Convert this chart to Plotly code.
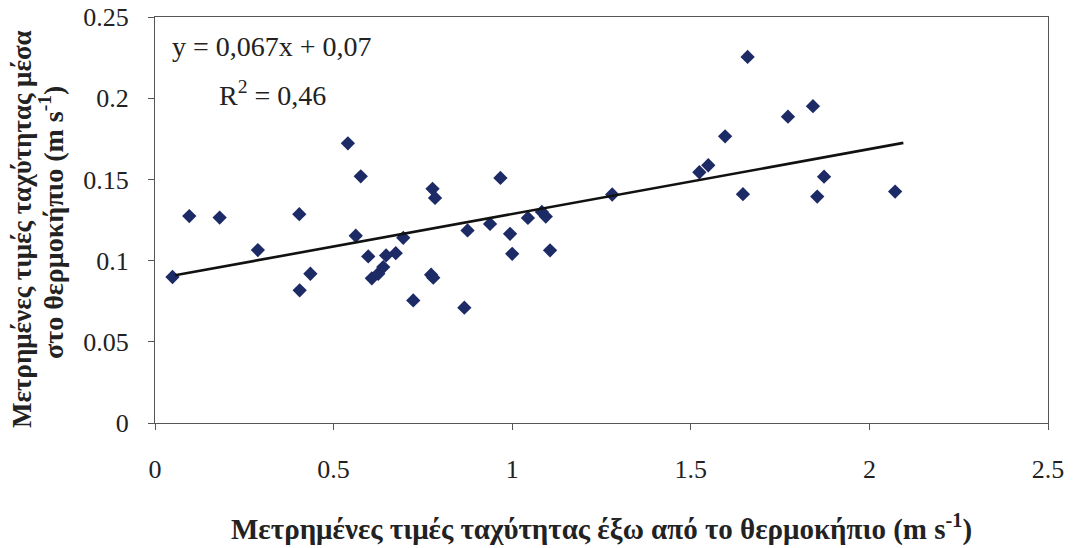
import plotly.graph_objects as go

# Measured speeds outside (x) and inside (y) the greenhouse, m/s
speed_outside = [0.049, 0.096, 0.181, 0.288, 0.404, 0.405, 0.435, 0.540, 0.562, 0.576,
                 0.597, 0.607, 0.625, 0.639, 0.647, 0.674, 0.695, 0.723, 0.773, 0.779,
                 0.777, 0.784, 0.866, 0.875, 0.938, 0.967, 0.994, 1.000, 1.044, 1.083,
                 1.094, 1.106, 1.280, 1.524, 1.549, 1.596, 1.659, 1.646, 1.772, 1.842,
                 1.873, 1.854, 2.072]
speed_inside = [0.0899, 0.1274, 0.1265, 0.1065, 0.1286, 0.0817, 0.0919, 0.1722, 0.1153, 0.1519,
                0.1026, 0.0891, 0.0919, 0.0960, 0.1032, 0.1046, 0.1140, 0.0755, 0.0913, 0.0895,
                0.1442, 0.1386, 0.0710, 0.1186, 0.1226, 0.1509, 0.1165, 0.1042, 0.1263, 0.1300,
                0.1271, 0.1063, 0.1407, 0.1544, 0.1587, 0.1765, 0.2254, 0.1409, 0.1886, 0.1951,
                0.1517, 0.1394, 0.1425]

# Trendline as drawn in the picture
trend_slope = 0.040
trend_intercept = 0.0887
trend_x = [0.056, 2.095]
trend_y = [trend_intercept + trend_slope * v for v in trend_x]

x_ticks = [0, 0.5, 1, 1.5, 2, 2.5]
x_ticklabels = ["0", "0.5", "1", "1.5", "2", "2.5"]
y_ticks = [0, 0.05, 0.1, 0.15, 0.2, 0.25]
y_ticklabels = ["0", "0.05", "0.1", "0.15", "0.2", "0.25"]

equation_text = "y = 0,067x + 0,07"
r2_text = "R<sup>2</sup> = 0,46"
x_title = "Μετρημένες τιμές ταχύτητας έξω από το θερμοκήπιο (m s<sup>-1</sup>)"
y_title_line1 = "Μετρημένες τιμές ταχύτητας μέσα"
y_title_line2 = "στο θερμοκήπιο (m s<sup>-1</sup>)"

FONT = "Liberation Serif, Times New Roman, serif"
TXT = "#222222"
AX = "#555555"

fig = go.Figure()
fig.add_trace(go.Scatter(
    x=speed_outside, y=speed_inside, mode="markers",
    marker=dict(symbol="diamond", size=11, color="#1c2a66"),
    showlegend=False, hoverinfo="x+y"))
fig.add_trace(go.Scatter(
    x=trend_x, y=trend_y, mode="lines",
    line=dict(color="#111111", width=2.6),
    showlegend=False, hoverinfo="skip"))

fig.update_layout(
    width=1066, height=540,
    margin=dict(l=147, r=26, t=9, b=125, autoexpand=False),
    paper_bgcolor="white", plot_bgcolor="white",
    font=dict(family=FONT, size=26, color=TXT),
    xaxis=dict(range=[0, 2.5], tickvals=x_ticks, ticktext=x_ticklabels,
               showgrid=False, zeroline=False, showline=True, linecolor=AX,
               linewidth=1, mirror=True, ticks="outside", ticklen=6, tickcolor=AX,
               automargin=False, ticklabelstandoff=17, ticklabeloverflow="allow",
               tickfont=dict(family=FONT, size=26, color=TXT)),
    yaxis=dict(range=[0, 0.25], tickvals=y_ticks, ticktext=y_ticklabels,
               showgrid=False, zeroline=False, showline=True, linecolor=AX,
               linewidth=1, mirror=True, ticks="outside", ticklen=6, tickcolor=AX,
               automargin=False, ticklabelstandoff=14, ticklabeloverflow="allow",
               tickfont=dict(family=FONT, size=26, color=TXT)),
    annotations=[
        dict(text=equation_text, x=0.042, y=0.232, xref="x", yref="y",
             xanchor="left", yanchor="middle", showarrow=False,
             font=dict(family=FONT, size=28, color=TXT)),
        dict(text=r2_text, x=0.174, y=0.203, xref="x", yref="y",
             xanchor="left", yanchor="middle", showarrow=False,
             font=dict(family=FONT, size=28, color=TXT)),
        dict(text="<b>" + x_title + "</b>", x=0.5, y=-0.2586, xref="paper", yref="paper",
             xanchor="center", yanchor="middle", showarrow=False,
             font=dict(family=FONT, size=29, color=TXT)),
        dict(text="<b>" + y_title_line1 + "</b>", x=-0.1489, y=0.478, xref="paper", yref="paper",
             xanchor="center", yanchor="middle", showarrow=False, textangle=-90,
             font=dict(family=FONT, size=27, color=TXT)),
        dict(text="<b>" + y_title_line2 + "</b>", x=-0.1153, y=0.493, xref="paper", yref="paper",
             xanchor="center", yanchor="middle", showarrow=False, textangle=-90,
             font=dict(family=FONT, size=28, color=TXT)),
    ],
)

fig.write_html("out.html")
